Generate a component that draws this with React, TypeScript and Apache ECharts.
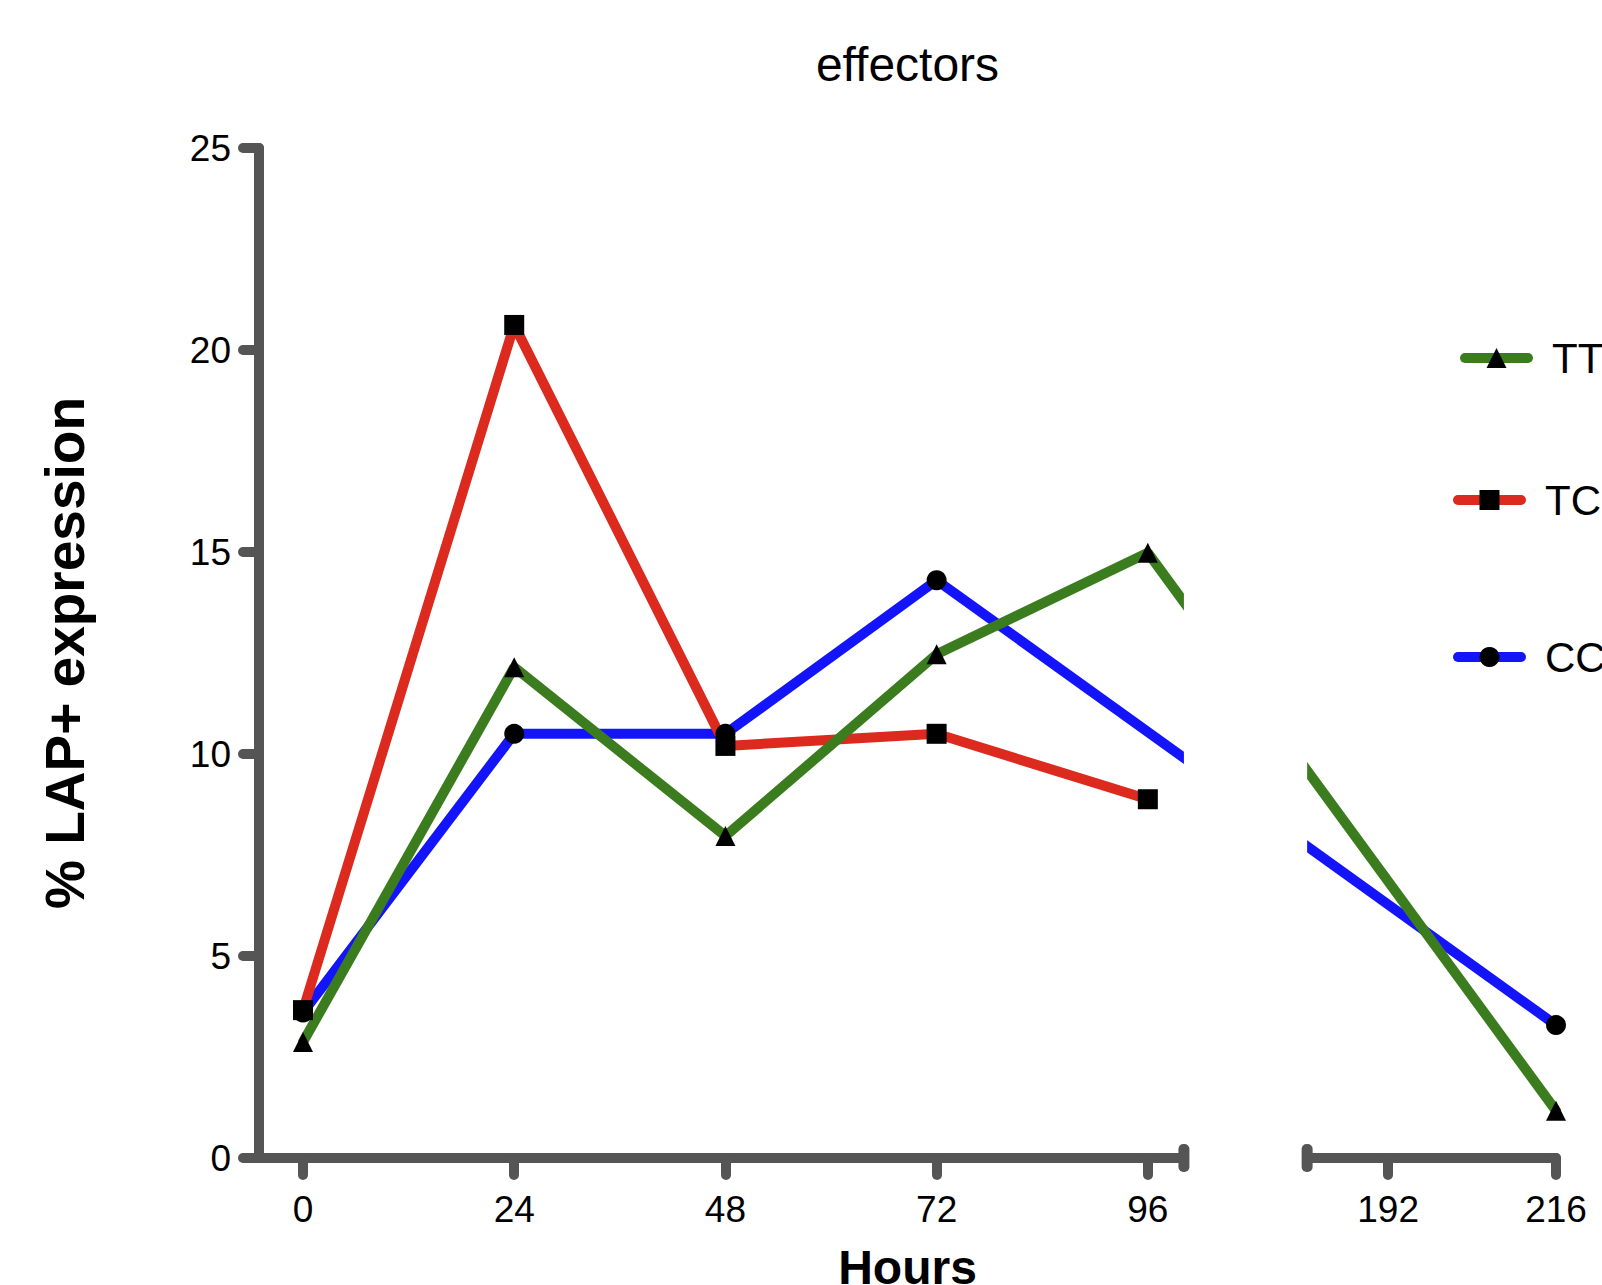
import React, { useEffect, useRef } from "react";
import * as echarts from "echarts";

// ---- data ----
const HOURS = [0, 24, 48, 72, 96, 216];
const TICK_HOURS = [0, 24, 48, 72, 96, 192, 216];
const TT = [2.87, 12.15, 7.97, 12.47, 14.98, 1.17];
const TC = [3.66, 20.62, 10.2, 10.5, 8.88, null];
const CC = [3.6, 10.5, 10.5, 14.3, null, 3.29];
const SERIES_NAMES = ["TT", "TC", "CC"];
const Y_MIN = 0;
const Y_MAX = 25;
const Y_STEP = 5;

// ---- broken x axis: virtual positions ----
const SEG1_END = 96;
const SEG2_START = 192;
const SEG2_POS = 123.3;
const SEG2_RATIO = 0.795;
const GAP_FROM = 100.1;
const GAP_TO = 114.1;
const toAxis = (h: number) => (h <= SEG1_END ? h : SEG2_POS + (h - SEG2_START) * SEG2_RATIO);

const FONT = '"Liberation Sans", Arial, Helvetica, sans-serif';
const AXIS_COLOR = "#555555";
const COLORS = { TT: "#3b7d1e", TC: "#dc2a1f", CC: "#1414fa" };
const SYMBOLS = { TT: "triangle", TC: "rect", CC: "circle" };
const VALUES: Record<string, (number | null)[]> = { TT, TC, CC };

const LEGEND_LEFT = [1460, 1453, 1453];
const LEGEND_CENTER = [358, 500, 657];

function pairs(vals: (number | null)[]) {
  const out: number[][] = [];
  HOURS.forEach((h, i) => {
    const v = vals[i];
    if (v !== null && v !== undefined) out.push([toAxis(h), v]);
  });
  return out;
}

export default function App() {
  const ref = useRef<HTMLDivElement>(null);
  useEffect(() => {
    const el = ref.current!;
    const chart = echarts.init(el, null, { renderer: "svg" });
    const tickVals = TICK_HOURS.map(toAxis);
    const drawOrder = ["CC", "TC", "TT"];
    const option: any = {
      animation: false,
      backgroundColor: "#ffffff",
      grid: { left: 259, right: 46, top: 148, bottom: 127, containLabel: false, outerBoundsMode: "none" },
      xAxis: {
        type: "value",
        min: -5,
        max: toAxis(216),
        name: "Hours",
        nameLocation: "middle",
        nameGap: 85,
        nameTextStyle: { fontSize: 48, fontWeight: "bold", color: "#000", fontFamily: FONT },
        splitLine: { show: false },
        axisLine: { show: true, onZero: false, lineStyle: { color: AXIS_COLOR, width: 10 } },
        axisTick: {
          show: true,
          customValues: tickVals,
          length: 17,
          lineStyle: { color: AXIS_COLOR, width: 10, cap: "round" },
        },
        axisLabel: {
          customValues: tickVals,
          margin: 33,
          fontSize: 37,
          color: "#000",
          fontFamily: FONT,
          formatter: (val: number) => {
            const idx = tickVals.findIndex((t) => Math.abs(t - val) < 0.01);
            return idx >= 0 ? String(TICK_HOURS[idx]) : "";
          },
        },
      },
      yAxis: {
        type: "value",
        min: Y_MIN,
        max: Y_MAX,
        interval: Y_STEP,
        name: "% LAP+ expression",
        nameLocation: "middle",
        nameGap: 167,
        nameTextStyle: { fontSize: 55, fontWeight: "bold", color: "#000", fontFamily: FONT },
        splitLine: { show: false },
        axisLine: { show: true, onZero: false, lineStyle: { color: AXIS_COLOR, width: 10 } },
        axisTick: { show: true, length: 16, lineStyle: { color: AXIS_COLOR, width: 10, cap: "round" } },
        axisLabel: { margin: 28, fontSize: 37, color: "#000", fontFamily: FONT },
      },
      legend: SERIES_NAMES.map((name, i) => ({
        data: [name],
        orient: "vertical",
        left: LEGEND_LEFT[i],
        top: LEGEND_CENTER[i] - 21,
        padding: 0,
        itemWidth: 63,
        itemHeight: 25,
        selectedMode: false,
        lineStyle: { width: 10, cap: "round" },
        textStyle: { fontSize: 42, lineHeight: 42, color: "#000", fontFamily: FONT, padding: [0, 0, 0, 19] },
      })),
      series: drawOrder.map((name) => ({
        name,
        type: "line",
        data: pairs(VALUES[name]),
        symbol: (SYMBOLS as any)[name],
        symbolSize: 20,
        showAllSymbol: true,
        lineStyle: { color: (COLORS as any)[name], width: 10, cap: "round" },
        itemStyle: { color: "#000000" },
        emphasis: { disabled: true },
      })),
    };
    chart.setOption(option);

    const x1 = chart.convertToPixel({ xAxisIndex: 0 }, GAP_FROM) as number;
    const x2 = chart.convertToPixel({ xAxisIndex: 0 }, GAP_TO) as number;
    const y0 = chart.convertToPixel({ yAxisIndex: 0 }, Y_MIN) as number;
    const xMid = ((chart.convertToPixel({ xAxisIndex: 0 }, -5) as number) +
      (chart.convertToPixel({ xAxisIndex: 0 }, toAxis(216)) as number)) / 2;

    chart.setOption({
      graphic: [
        {
          type: "text",
          id: "title",
          x: xMid,
          y: 64,
          z: 100,
          style: { text: "effectors", font: `48px ${FONT}`, fill: "#000", align: "center", verticalAlign: "middle" },
        },
        {
          type: "rect",
          id: "gap",
          z: 100,
          shape: { x: x1, y: 0, width: x2 - x1, height: y0 + 7 },
          style: { fill: "#ffffff" },
        },
        {
          type: "rect",
          id: "cap1",
          z: 101,
          shape: { x: x1 - 5.5, y: y0 - 14, width: 11, height: 28, r: 5 },
          style: { fill: AXIS_COLOR },
        },
        {
          type: "rect",
          id: "cap2",
          z: 101,
          shape: { x: x2 - 5.5, y: y0 - 14, width: 11, height: 28, r: 5 },
          style: { fill: AXIS_COLOR },
        },
      ],
    });
    return () => chart.dispose();
  }, []);
  return (
    <div
      ref={ref}
      style={{ position: "fixed", left: 0, top: 0, width: 1602, height: 1285, background: "#fff" }}
    />
  );
}
